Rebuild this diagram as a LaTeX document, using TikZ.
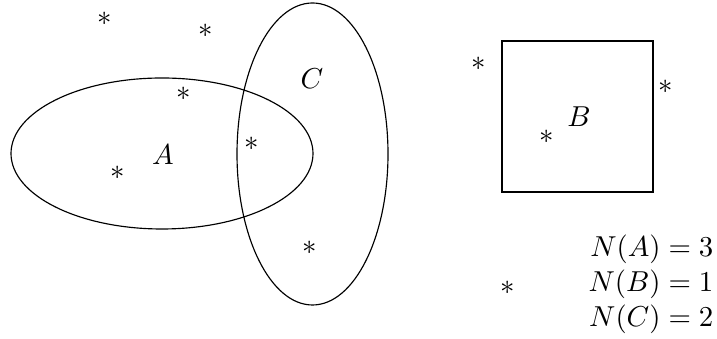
\documentclass[tikz,border=0pt]{standalone}
\begin{document}
\begin{tikzpicture}[x=0.347pt,y=-0.347pt,
  pt/.style={inner sep=0pt},
  lab/.style={inner sep=0pt},
  eq/.style={inner sep=0pt,anchor=east}]
\useasboundingbox (0,0) rectangle (717,339);
% sets
\draw (162,153.5) ellipse [x radius=151,y radius=75.5];
\draw (312.5,154) ellipse [x radius=75.5,y radius=151];
\draw (502,41) rectangle (653,192);
% labels
\node[lab] (la) at (163,155) {$A$};
\node[lab] (lc) at (312,79) {$C$};
\node[lab] (lb) at (579,117) {$B$};
% points
\node[pt] (p1) at (105,19) {$\ast$};
\node[pt] (p2) at (206,31) {$\ast$};
\node[pt] (p3) at (184,94) {$\ast$};
\node[pt] (p4) at (252,144) {$\ast$};
\node[pt] (p5) at (118,173) {$\ast$};
\node[pt] (p6) at (310,248) {$\ast$};
\node[pt] (p7) at (479,64) {$\ast$};
\node[pt] (p8) at (666,87) {$\ast$};
\node[pt] (p9) at (547,137) {$\ast$};
\node[pt] (p10) at (508,288) {$\ast$};
% counts
\node[eq] (na) at (714,249.5) {$N(A)=3$};
\node[eq] (nb) at (714,284.5) {$N(B)=1$};
\node[eq] (nc) at (714,319) {$N(C)=2$};
\end{tikzpicture}
\end{document}
